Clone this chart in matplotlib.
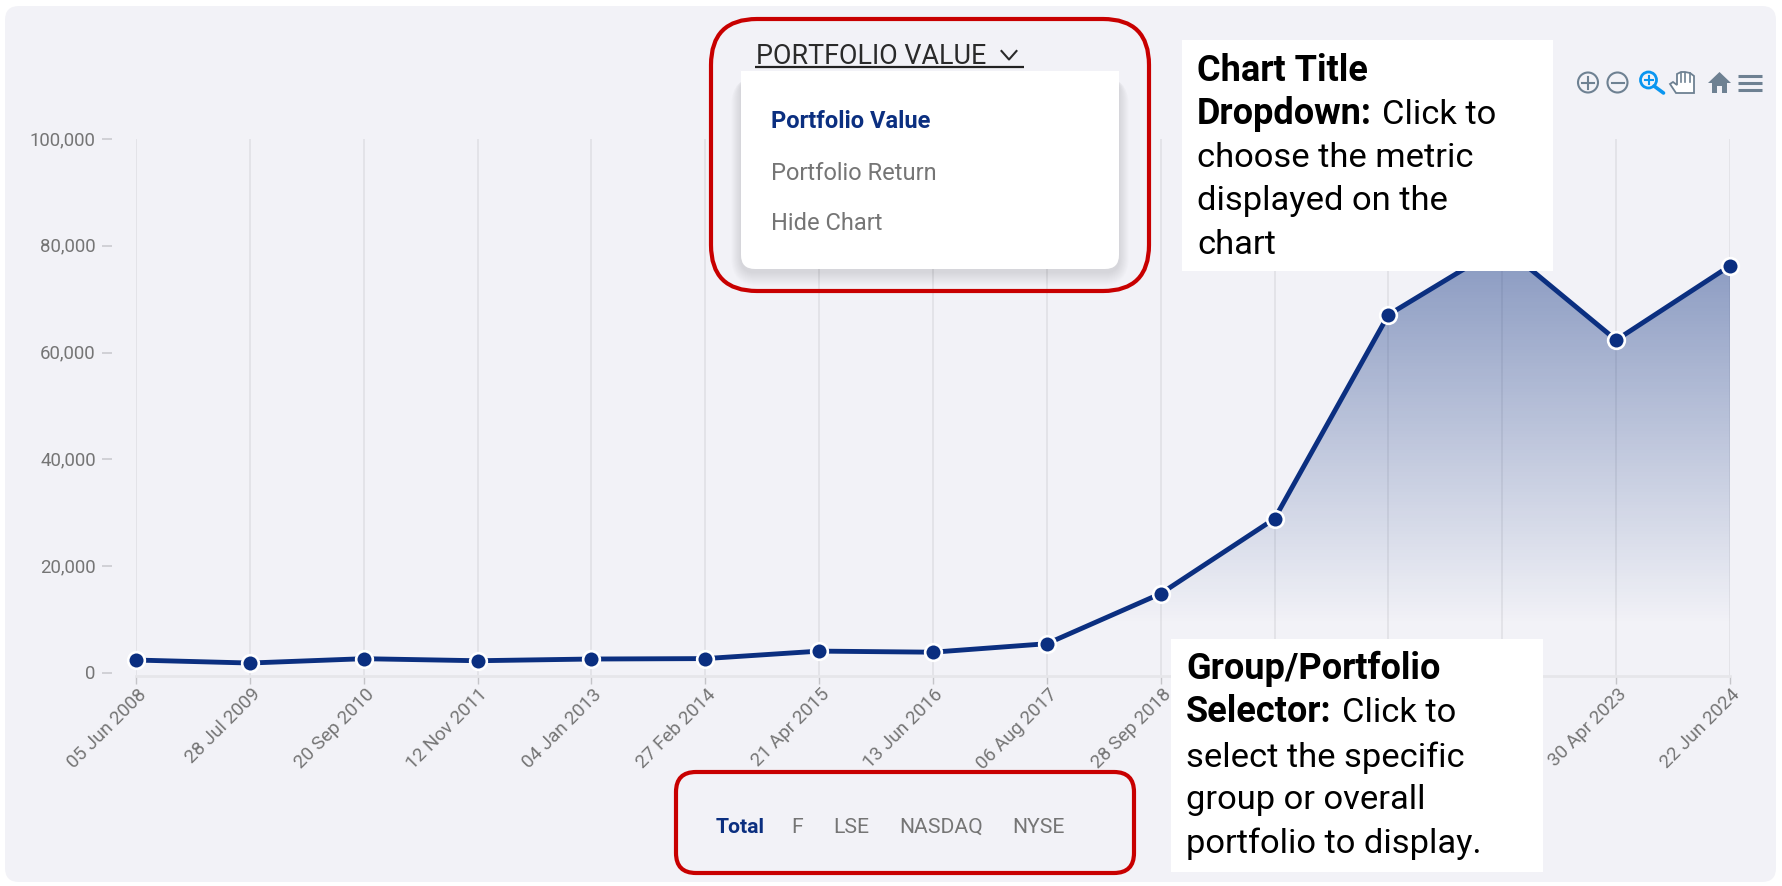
import numpy as np
import matplotlib
matplotlib.use("Agg")
import matplotlib.pyplot as plt
from matplotlib.patches import FancyBboxPatch, Rectangle, Circle, Polygon
from matplotlib.colors import LinearSegmentedColormap
from matplotlib.ticker import FuncFormatter
from matplotlib.transforms import ScaledTranslation

W, H = 1782, 887
NAVY = "#0b2f80"
GREY = "#757575"
RED = "#c80000"
PANEL = "#f2f2f7"
SANS = "Roboto"
NOTE = "Roboto"

# --- data -------------------------------------------------------------
date_labels = ["05 Jun 2008", "28 Jul 2009", "20 Sep 2010", "12 Nov 2011", "04 Jan 2013",
               "27 Feb 2014", "21 Apr 2015", "13 Jun 2016", "06 Aug 2017", "28 Sep 2018",
               "", "", "", "30 Apr 2023", "22 Jun 2024"]
portfolio_value = [2430, 1870, 2680, 2300, 2620, 2700, 4100, 3900, 5490, 14870,
                   28900, 67100, 80000, 62360, 76270]
y_ticks = [0, 20000, 40000, 60000, 80000, 100000]
menu_items = ["Portfolio Value", "Portfolio Return", "Hide Chart"]
groups = ["Total", "F", "LSE", "NASDAQ", "NYSE"]

fig = plt.figure(figsize=(W / 100, H / 100), dpi=100, facecolor="white")


def px_axes(z):
    a = fig.add_axes([0, 0, 1, 1], zorder=z)
    a.set_xlim(0, W)
    a.set_ylim(H, 0)
    a.axis("off")
    a.patch.set_alpha(0)
    return a


def rbox(a, x0, y0, x1, y1, r, **kw):
    p = FancyBboxPatch((x0, y0), x1 - x0, y1 - y0,
                       boxstyle=f"round,pad=0,rounding_size={r}", **kw)
    a.add_patch(p)
    return p


# --- background panel -------------------------------------------------
bg = px_axes(0)
rbox(bg, 5, 7, 1776, 883, 14, fc=PANEL, ec="none")

# --- chart ------------------------------------------------------------
left, right, top, bottom = 136.0, 1730.0, 140.0, 677.0
ax = fig.add_axes([left / W, 1 - bottom / H, (right - left) / W, (bottom - top) / H], zorder=1)
ax.patch.set_alpha(0)
x = np.arange(len(portfolio_value))
YLIM = (-560, 100020)
ax.set_xlim(x[0], x[-1])
ax.set_ylim(*YLIM)

for s in ["top", "right", "left"]:
    ax.spines[s].set_visible(False)
ax.spines["left"].set_position(("outward", 17))
ax.spines["bottom"].set_color("#e6e6ea")
ax.spines["bottom"].set_linewidth(2.0)

ax.set_yticks(y_ticks)
ax.yaxis.set_major_formatter(FuncFormatter(lambda v, _: f"{int(v):,}"))
ax.tick_params(axis="y", length=7, width=1.1, color="#c8c8cc", labelcolor=GREY,
               labelsize=13.4, pad=5)
ax.set_xticks(x)
ax.set_xticklabels(date_labels, rotation=45, ha="right", va="top", rotation_mode="anchor",
                   color=GREY, fontsize=13.6)
ax.tick_params(axis="x", length=6, width=1.0, color="#c4c4c8", pad=0)
for lab in ax.get_yticklabels():
    lab.set_fontfamily(SANS)
    lab.set_transform(lab.get_transform() + ScaledTranslation(0, 2.2 / 100, fig.dpi_scale_trans))
for lab in ax.get_xticklabels():
    lab.set_fontfamily(SANS)
    lab.set_transform(lab.get_transform() + ScaledTranslation(1 / 100, 0, fig.dpi_scale_trans))
ax.grid(axis="x", color="#dfdfe4", lw=1.1)
ax.set_axisbelow(True)

# gradient area under the line
poly = ax.fill_between(x, portfolio_value, YLIM[0], color="none")
grad = LinearSegmentedColormap.from_list("g", [(0.043, 0.184, 0.5, 0.0), (0.043, 0.184, 0.5, 0.46)])
im = ax.imshow(np.linspace(1, 0, 256).reshape(-1, 1), cmap=grad, aspect="auto",
               extent=(x[0], x[-1], 9000, max(portfolio_value)), zorder=1.5, vmin=0, vmax=1)
im.set_clip_path(poly.get_paths()[0], transform=ax.transData)
ax.set_xlim(x[0], x[-1])
ax.set_ylim(*YLIM)

ax.plot(x, portfolio_value, color=NAVY, lw=3.5, zorder=3, marker="o", ms=12, mfc=NAVY,
        mec="white", mew=1.9, clip_on=False, solid_joinstyle="round")

# --- overlay ----------------------------------------------------------
fg = px_axes(5)

# chart title + chevron
fg.text(756, 64, "PORTFOLIO VALUE", fontfamily=SANS, fontsize=19.4, color="#2a2a2a", va="baseline")
fg.plot([755, 1024], [68, 68], color="#222222", lw=1.6, solid_capstyle="butt")
fg.plot([1001.5, 1009, 1016.5], [52, 60.5, 52], color="#2a2a2a", lw=1.5)

# dropdown card with soft shadow
for i in range(14):
    g = 14 - i
    rbox(fg, 741 - g * 0.7, 72 + 6, 1119 + g * 0.7, 270 + 3 + g, 14 + g, fc="#50505a", ec="none", alpha=0.012)
rbox(fg, 741, 72, 1119, 270, 14, fc="white", ec="none")
fg.add_patch(Rectangle((741, 72), 378, 30, fc="white", ec="none"))
for label, yy, col, wt in zip(menu_items, [128, 180, 230], [NAVY, GREY, GREY], ["bold", "normal", "normal"]):
    fg.text(771, yy, label, fontfamily=SANS, fontsize=17, color=col, fontweight=wt, va="baseline")

# red call-out frames
rbox(fg, 711, 20, 1149, 292, 46, fc="none", ec=RED, lw=3)
rbox(fg, 676, 773, 1134, 874, 20, fc="none", ec=RED, lw=3)

# group selector
for label, xx, col, wt in zip(groups, [716, 791, 833, 899, 1012], [NAVY] + [GREY] * 4,
                              ["bold"] + ["normal"] * 4):
    fg.text(xx, 833, label, fontfamily=SANS, fontsize=15.2, color=col, fontweight=wt, va="baseline")

# annotation boxes
fg.add_patch(Rectangle((1182, 41), 371, 231, fc="white", ec="none"))
fg.add_patch(Rectangle((1170.5, 640), 372.5, 233, fc="white", ec="none"))
NOTE_FS = 24.8
NOTE_BOLD_FS = 26
renderer = fig.canvas.get_renderer()


def note(xx, yy, txt, bold=False):
    return fg.text(xx, yy, txt, fontfamily=NOTE, fontsize=NOTE_BOLD_FS if bold else NOTE_FS, color="black",
                   fontweight="bold" if bold else "normal", va="baseline")


def mixed(xx, yy, b, r):
    t = note(xx, yy, b, True)
    note(t.get_window_extent(renderer).x1 + 10, yy, r)


LX1, LX2 = 1197, 1186
note(LX1, 81, "Chart Title", True)
mixed(LX1, 124, "Dropdown:", "Click to")
note(LX1, 167, "choose the metric")
note(LX1, 210, "displayed on the")
note(LX1, 254, "chart")

note(LX2, 679, "Group/Portfolio", True)
mixed(LX2, 722, "Selector:", "Click to")
note(LX2, 767, "select the specific")
note(LX2, 809, "group or overall")
note(LX2, 853, "portfolio to display.")

# toolbar icons
IC = "#6e8192"
fg.add_patch(Circle((1588, 83.5), 10, fc="none", ec=IC, lw=1.5))
fg.plot([1582, 1594], [83.5, 83.5], color=IC, lw=1.5)
fg.plot([1588, 1588], [77.5, 89.5], color=IC, lw=1.5)
fg.add_patch(Circle((1622 - 4.5, 83.5), 10, fc="none", ec=IC, lw=1.5))
fg.plot([1611.5, 1623.5], [83.5, 83.5], color=IC, lw=1.5)
ZC = "#0a96f0"
fg.add_patch(Circle((1648.5, 81), 8, fc="none", ec=ZC, lw=2))
fg.plot([1654, 1663.5], [87, 94], color=ZC, lw=2.6, solid_capstyle="round")
fg.plot([1644.5, 1652.5], [81, 81], color=ZC, lw=1.5)
fg.plot([1648.5, 1648.5], [77, 85], color=ZC, lw=1.5)
dx = -5
fg.add_patch(Polygon([(1681 + dx, 94), (1675 + dx, 85), (1678 + dx, 83), (1682 + dx, 86), (1682 + dx, 75),
                      (1686 + dx, 73), (1690 + dx, 73), (1695 + dx, 74), (1699 + dx, 77), (1699 + dx, 94)],
                     closed=True, fc="white", ec=IC, lw=1.3))
for xx in [1686 + dx, 1690 + dx, 1694.5 + dx]:
    fg.plot([xx, xx], [74, 83], color=IC, lw=1.2)
dx = -6
fg.add_patch(Polygon([(1714 + dx, 84), (1725.5 + dx, 73), (1737 + dx, 84), (1733 + dx, 84), (1733 + dx, 94),
                      (1728 + dx, 94), (1728 + dx, 87), (1723 + dx, 87), (1723 + dx, 94), (1718 + dx, 94),
                      (1718 + dx, 84)], closed=True, fc=IC, ec="none"))
for yy in [77, 84, 91]:
    fg.plot([1744 + dx, 1768 + dx], [yy, yy], color=IC, lw=2.2, solid_capstyle="butt")

fig.savefig("out.png", dpi=100, facecolor="white")
